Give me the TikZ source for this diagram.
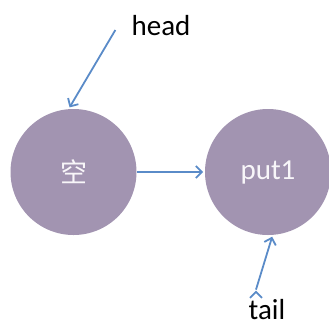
\documentclass[tikz,border=0pt]{standalone}
\usepackage{fontspec}
\setmainfont{Carlito}
\newfontfamily\cjk{Noto Sans CJK SC}
\usetikzlibrary{arrows.meta,automata}
\definecolor{nodefill}{HTML}{A294B1}
\definecolor{linkblue}{HTML}{5A8BC8}

\begin{document}
\begin{tikzpicture}[
                    x=1pt,y=-1pt,
                    ->,
                    >={Straight Barb[length=6pt,width=12pt]},
                    shorten >=1pt,
                    node distance=194.5pt,
                    line width=1.8pt,
                    font=\fontsize{29}{34}\selectfont
                ]
                \tikzstyle{every state}=[fill=nodefill,draw=none,text=white!92!nodefill,minimum size=126pt,inner sep=0pt]

                \useasboundingbox (0,0) rectangle (329,322);

                \node[state] (E) at (73.5,172) {\cjk\fontsize{27}{30}\selectfont 空};
                \node[state] (P) [right of=E] {put1};
                \node (H) at (161,26) {head};
                \node (T) at (267,310) {tail};

                \path[draw=linkblue]
                ([xshift=-12pt,yshift=-4pt]H.west) edge (E.94)
                (E.east) edge (P.west)
                ([xshift=-11pt,yshift=6pt]T.north) edge (P.-86)
                ;

            \end{tikzpicture}
\end{document}
